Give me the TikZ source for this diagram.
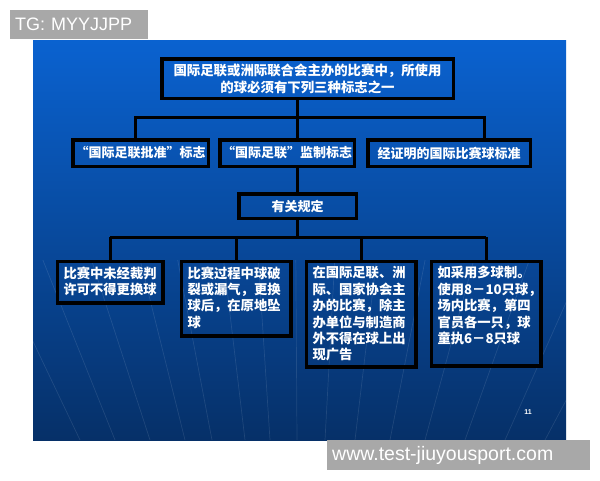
\documentclass[tikz,border=0pt]{standalone}
\usepackage{fontspec}
\setmainfont{Liberation Sans}
\newfontfamily\cjk{Noto Sans CJK SC}
\usetikzlibrary{positioning}

\definecolor{slidetop}{RGB}{10,98,208}
\definecolor{slidemid}{RGB}{14,78,172}
\definecolor{slidebot}{RGB}{6,48,104}
\definecolor{tagback}{RGB}{168,168,168}
\newcommand{\celltext}[3]{\parbox[t][#2][t]{#1}{#3}}

\begin{document}
\begin{tikzpicture}[x=1pt,y=-1pt,
  frame/.style={draw=black, line width=3.5pt, text=white, inner sep=0pt},
  headbox/.style={frame, align=center, font=\cjk\bfseries\fontsize{13.4}{17}\selectfont},
  markbox/.style={frame, minimum height=26.5pt, font=\cjk\bfseries\fontsize{13}{15}\selectfont},
  rulebox/.style={frame, anchor=north west, inner xsep=6pt, inner ysep=5pt, font=\cjk\bfseries\fontsize{13.3}{16.4}\selectfont},
  link/.style={draw=black, line width=3pt},
  tag/.style={fill=tagback, text=white, anchor=north west, inner xsep=5pt, inner ysep=0pt, align=left},
  streak/.style={draw=white, opacity=0.1, line width=0.7pt}]
\useasboundingbox (0,0) rectangle (600,480);
\fill[white] (0,0) rectangle (600,480);
% slide background
\shade[top color=slidetop, middle color=slidemid, bottom color=slidebot] (33,40) rectangle (566,440);
\begin{scope}
\clip (33,40) rectangle (566,440);
\foreach \b in {80,115,150,185,212,245,270,297,325,355,390,425,465,505,545}
  \draw[streak] (\b,440) -- ({300+(\b-300)*1.39},260);
\end{scope}

\node[headbox, minimum width=291.5pt, minimum height=39.5pt] (head) at (307.5,78.5)
  {国际足联或洲际联合会主办的比赛中，所使用\\的球必须有下列三种标志之一};

\node[markbox, minimum width=135.5pt] (mark1) at (140.5,153) {“国际足联批准”标志};
\node[markbox, minimum width=134.5pt] (mark2) at (287,153) {“国际足联”监制标志};
\node[markbox, minimum width=162.5pt] (mark3) at (449,153) {经证明的国际比赛球标准};

\node[markbox, minimum width=117.5pt, minimum height=24.5pt] (rules) at (297.5,206) {有关规定};

\node[rulebox] (ruleA) at (55.75,259.75) {\celltext{93.5pt}{31.5pt}{比赛中未经裁判\\许可不得更换球}};
\node[rulebox] (ruleB) at (179.75,259.75) {\celltext{97.5pt}{64.5pt}{比赛过程中球破\\裂或漏气，更换\\球后，在原地坠\\球}};
\node[rulebox] (ruleC) at (304.75,259.75) {\celltext{97.5pt}{95.5pt}{在国际足联、洲\\际、国家协会主\\办的比赛，除主\\办单位与制造商\\外不得在球上出\\现广告}};
\node[rulebox] (ruleD) at (429.75,259.75) {\celltext{97.5pt}{94.5pt}{如采用多球制。\\使用8－10只球，\\场内比赛，第四\\官员各一只，球\\童执6－8只球}};

% from head to the three marks
\coordinate (busa) at (135,117);
\coordinate (busb) at (484,117);
\draw[link] (mark1.north -| busa) -- (busa) -- (busb) -- (mark3.north -| busb);
\draw[link] (head.south -| rules) -- (mark2.north -| rules);
\draw[link] (mark2.south -| rules) -- (rules.north);
% from rules to the four boxes
\coordinate (bus) at (0,237);
\draw[link] (rules.south) -- (rules.south |- bus);
\draw[link] (ruleA.north |- bus) -- (ruleD.north |- bus);
\foreach \n in {A,B,C,D}
  \draw[link] (rule\n.north |- bus) -- (rule\n.north);

\node[text=white, font=\bfseries\fontsize{7}{8}\selectfont] (page) at (528,412) {11};

\node[tag, minimum height=29pt, text width=128pt, font=\fontsize{18}{20}\selectfont] (tg) at (10,10) {TG: MYYJJPP};
\node[tag, minimum height=30pt, text width=253pt, font=\fontsize{19.5}{21}\selectfont] (site) at (327,440) {www.test-jiuyousport.com};
\end{tikzpicture}
\end{document}
